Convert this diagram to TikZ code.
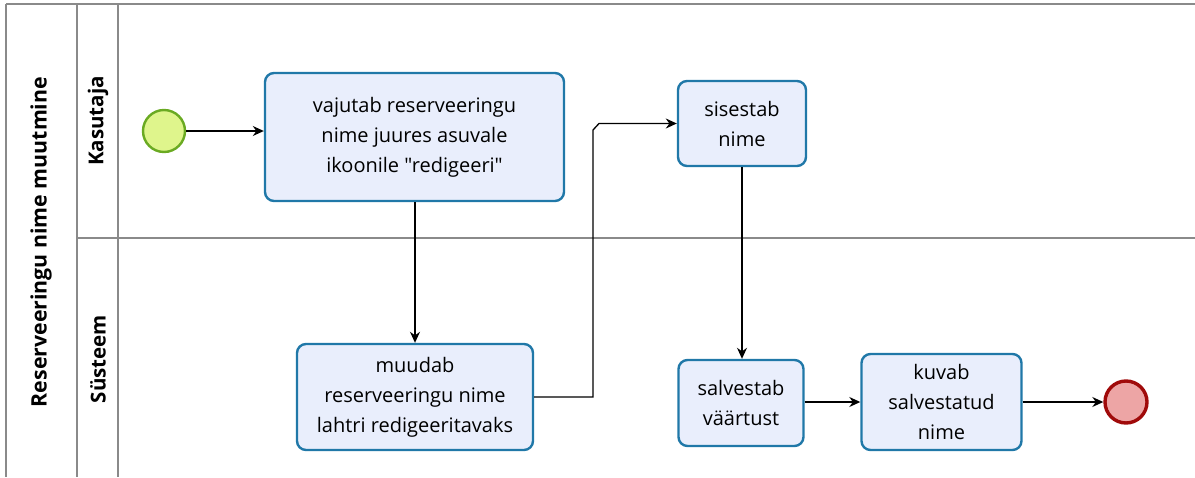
\documentclass[tikz,border=0pt]{standalone}
\usepackage{fontspec}
\setmainfont[Ligatures=TeXOff]{Open Sans}
\usetikzlibrary{arrows.meta}
\definecolor{taskfill}{HTML}{E9EEFC}
\definecolor{taskdraw}{HTML}{2078A8}
\definecolor{startfill}{HTML}{DFF58C}
\definecolor{startdraw}{HTML}{6AAA22}
\definecolor{endfill}{HTML}{EDA5A5}
\definecolor{enddraw}{HTML}{A00A0A}
\definecolor{poolline}{HTML}{8A8A8A}
\tikzset{
  task/.style={draw=taskdraw, fill=taskfill, line width=2.4pt, rounded corners=9pt,
    align=center, inner sep=0pt, font=\fontsize{20}{30}\selectfont},
  startev/.style={circle, draw=startdraw, fill=startfill, line width=2.4pt, minimum size=42pt, inner sep=0pt},
  endev/.style={circle, draw=enddraw, fill=endfill, line width=3.4pt, minimum size=42pt, inner sep=0pt},
  flow/.style={draw=black, line width=1.3pt, -{Stealth[length=11pt,width=10pt]}},
  poolln/.style={draw=poolline, line width=1.6pt},
  lanelbl/.style={rotate=90, font=\fontsize{20.5}{24}\selectfont\bfseries},
}
\begin{document}
\begin{tikzpicture}[x=1pt,y=-1pt]
\useasboundingbox (0,0) rectangle (1195,477);
% pool
\draw[poolln] (6,4) -- (1195,4);
\draw[poolln] (6,4) -- (6,477);
\draw[poolln] (77,4) -- (77,477);
\draw[poolln] (118,4) -- (118,477);
\draw[poolln] (77,238) -- (1195,238);
\node[lanelbl, font=\fontsize{21.3}{24}\selectfont\bfseries] (pool) at (41,242) {Reserveeringu nime muutmine};
\node[lanelbl] (lane1) at (98,121) {Kasutaja};
\node[lanelbl] (lane2) at (98,359) {Süsteem};
% events
\node[startev] (start) at (164,131) {};
\node[endev] (end) at (1126,402) {};
% tasks
\node[task, minimum width=299pt, minimum height=128pt] (t1) at (414.5,137) {vajutab reserveeringu\\nime juures asuvale\\ikoonile "redigeeri"};
\node[task, minimum width=236pt, minimum height=106pt] (t2) at (415,397) {muudab\\reserveeringu nime\\lahtri redigeeritavaks};
\node[task, minimum width=128pt, minimum height=85pt] (t3) at (742,123.5) {sisestab\\nime};
\node[task, minimum width=125pt, minimum height=86pt] (t4) at (741,403) {salvestab\\väärtust};
\node[task, minimum width=160pt, minimum height=96pt] (t5) at (941.5,402) {kuvab\\salvestatud\\nime};
% flows
\coordinate (b1) at (593,397);
\coordinate (b2) at (593,130);
\coordinate (b3) at (599,123.5);
\draw[flow] (start) -- (t1.west |- start);
\draw[flow] (t1.south -| t2.north) -- (t2.north);
\draw[flow] (t2.east |- b1) -- (b1) -- (b2) -- (b3) -- (t3.west);
\draw[flow] (t3.south) -- (t3.south |- t4.north);
\draw[flow] (t4.east |- t5.west) -- (t5.west);
\draw[flow] (t5.east) -- (end);
\end{tikzpicture}
\end{document}
